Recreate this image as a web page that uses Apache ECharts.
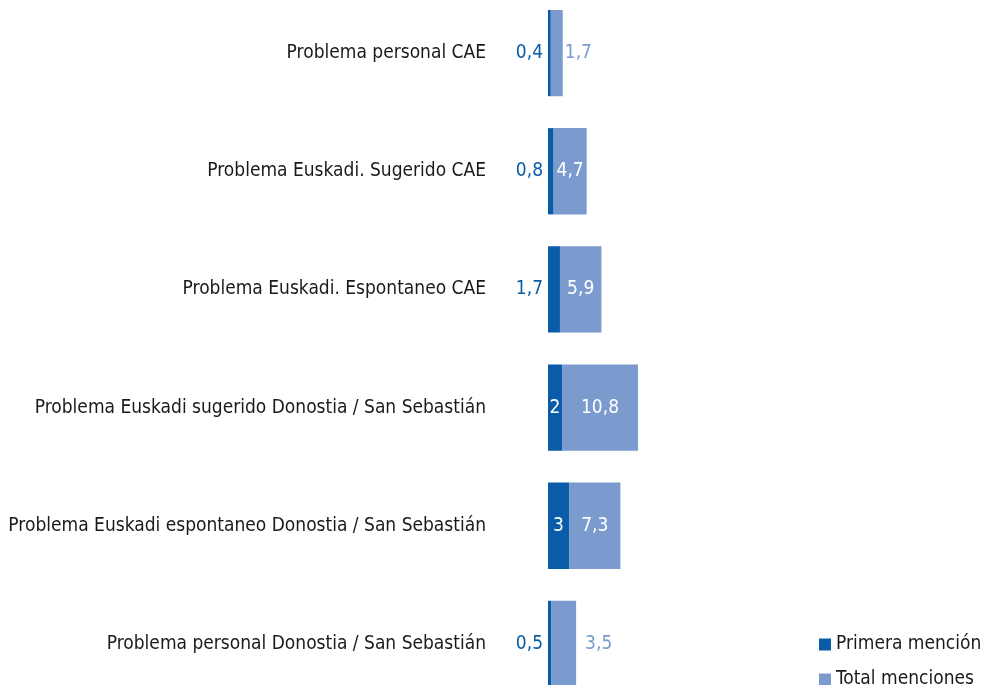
<!DOCTYPE html>
<html>
<head>
<meta charset="utf-8">
<script src="https://cdn.jsdelivr.net/npm/echarts@6/dist/echarts.min.js"></script>
<style>
  html, body { margin: 0; padding: 0; background: #ffffff; overflow: hidden; width: 981px; height: 685px; }
  /* chart area is taller than the window: the reference crops the last band */
  #chart { position: absolute; left: 0; top: -6px; width: 981px; height: 709px; }
</style>
</head>
<body>
<div id="chart"></div>
<script>
"use strict";

var categories = [
  'Problema personal CAE',
  'Problema Euskadi. Sugerido CAE',
  'Problema Euskadi. Espontaneo CAE',
  'Problema Euskadi sugerido Donostia / San Sebastián',
  'Problema Euskadi espontaneo Donostia / San Sebastián',
  'Problema personal Donostia / San Sebastián'
];
var primera = [0.4, 0.8, 1.7, 2, 3, 0.5];
var total = [1.7, 4.7, 5.9, 10.8, 7.3, 3.5];

var darkBlue = '#0a5ca8';
var lightBlue = '#7b9bcf';
var textColor = '#1a1a1a';
var font = '"Liberation Sans Narrow", "DejaVu Sans Condensed", sans-serif';

function fmt(v) {
  return String(v).replace('.', ',');
}

// small segments get their label outside the bar
var primeraData = primera.map(function (v) {
  if (v < 1.9) {
    return { value: v, label: { position: 'left', distance: 5, color: darkBlue } };
  }
  return { value: v };
});
var totalData = total.map(function (v) {
  if (v < 4) {
    return { value: v, label: { position: 'right', distance: v < 2 ? 2 : 9, color: lightBlue } };
  }
  return { value: v };
});

var chart = echarts.init(document.getElementById('chart'));

var option = {
  backgroundColor: '#ffffff',
  animation: false,
  textStyle: { fontFamily: font },
  grid: {
    left: 548,
    width: 140.6,
    top: 0,
    height: 709
  },
  legend: {
    orient: 'vertical',
    left: 814,
    top: 636,
    itemWidth: 12,
    itemHeight: 12,
    itemGap: 16,
    icon: 'rect',
    textStyle: { fontFamily: font, fontSize: 19, color: textColor },
    data: ['Primera mención', 'Total menciones']
  },
  xAxis: {
    type: 'value',
    min: 0,
    max: 20,
    show: false
  },
  yAxis: {
    type: 'category',
    data: categories,
    inverse: true,
    axisLine: { show: false },
    axisTick: { show: false },
    axisLabel: {
      margin: 62,
      fontFamily: font,
      fontSize: 19,
      color: textColor
    }
  },
  series: [
    {
      name: 'Primera mención',
      type: 'bar',
      stack: 'm',
      barCategoryGap: '27%',
      itemStyle: { color: darkBlue },
      label: {
        show: true,
        position: 'inside',
        color: '#ffffff',
        fontFamily: font,
        fontSize: 19,
        formatter: function (p) { return fmt(p.value); }
      },
      data: primeraData
    },
    {
      name: 'Total menciones',
      type: 'bar',
      stack: 'm',
      barCategoryGap: '27%',
      itemStyle: { color: lightBlue },
      label: {
        show: true,
        position: 'inside',
        color: '#ffffff',
        fontFamily: font,
        fontSize: 19,
        formatter: function (p) { return fmt(p.value); }
      },
      data: totalData
    }
  ]
};

chart.setOption(option);
</script>
</body>
</html>
